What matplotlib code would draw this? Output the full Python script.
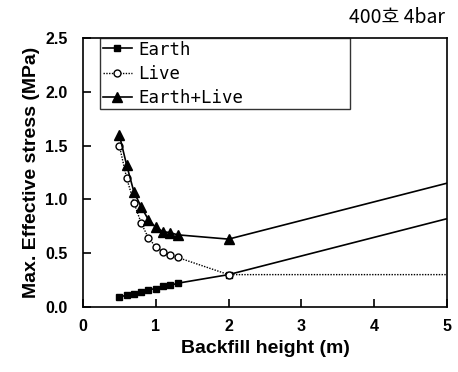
import numpy as np
import matplotlib
matplotlib.use("Agg")
import matplotlib.pyplot as plt

# backfill height (m)
height = [0.5, 0.6, 0.7, 0.8, 0.9, 1.0, 1.1, 1.2, 1.3, 2.0, 5.0]

# max. effective stress (MPa)
earth = [0.09, 0.11, 0.12, 0.14, 0.16, 0.17, 0.19, 0.20, 0.22, 0.30, 0.82]
live = [1.50, 1.20, 0.97, 0.78, 0.64, 0.56, 0.51, 0.48, 0.46, 0.30, 0.30]
earth_live = [1.60, 1.32, 1.07, 0.93, 0.81, 0.74, 0.70, 0.69, 0.67, 0.63, 1.15]

x_ticks = [0, 1, 2, 3, 4, 5]
y_ticks = [0.0, 0.5, 1.0, 1.5, 2.0, 2.5]

plt.rcParams['font.family'] = ['Liberation Sans', 'DejaVu Sans']

fig = plt.figure(figsize=(4.58, 3.72), dpi=100, facecolor='white')
ax = fig.add_axes([0.181, 0.175, 0.795, 0.723])

mk = list(range(len(height) - 1))  # no marker on the x=5 end point
ax.plot(height, earth, color='black', lw=1.2, marker='s', ms=4,
        markevery=mk, label='Earth')
ax.plot(height, live, color='black', lw=1.0, ls=(0, (1, 1)), marker='o', ms=5,
        mfc='white', mec='black', mew=1.0, markevery=mk, label='Live')
ax.plot(height, earth_live, color='black', lw=1.2, marker='^', ms=6.5,
        markevery=mk, label='Earth+Live')

ax.set_xlim(0, 5)
ax.set_ylim(0, 2.5)
ax.set_xticks(x_ticks)
ax.set_yticks(y_ticks)
ax.set_xticklabels([str(t) for t in x_ticks], fontweight='bold', fontsize=11.5)
ax.set_yticklabels(['%.1f' % t for t in y_ticks], fontweight='bold', fontsize=11.5)
ax.tick_params(axis='both', direction='in', length=6, width=1.2)
ax.tick_params(axis='y', pad=11)
ax.tick_params(axis='x', pad=9)
for s in ax.spines.values():
    s.set_linewidth(1.2)

ax.set_xlabel('Backfill height (m)', fontweight='bold', fontsize=14, labelpad=4)
ax.set_ylabel('Max. Effective stress (MPa)', fontweight='bold', fontsize=14, labelpad=4)

leg = ax.legend(loc='upper left', bbox_to_anchor=(0.047, 0.74, 0.687, 0.26),
                mode='expand', frameon=True, fancybox=False,
                prop={'family': 'DejaVu Sans Mono', 'size': 12.5},
                handlelength=1.7, handletextpad=0.35, borderpad=0.15,
                labelspacing=0.35, borderaxespad=0.0)
leg.get_frame().set_edgecolor('black')
leg.get_frame().set_linewidth(1.0)

fig.text(0.972, 0.952, '400호 4bar', ha='right', va='center', fontsize=14,
         family=['Noto Sans CJK KR', 'DejaVu Sans'])

fig.savefig('out.png', dpi=100, facecolor='white')
